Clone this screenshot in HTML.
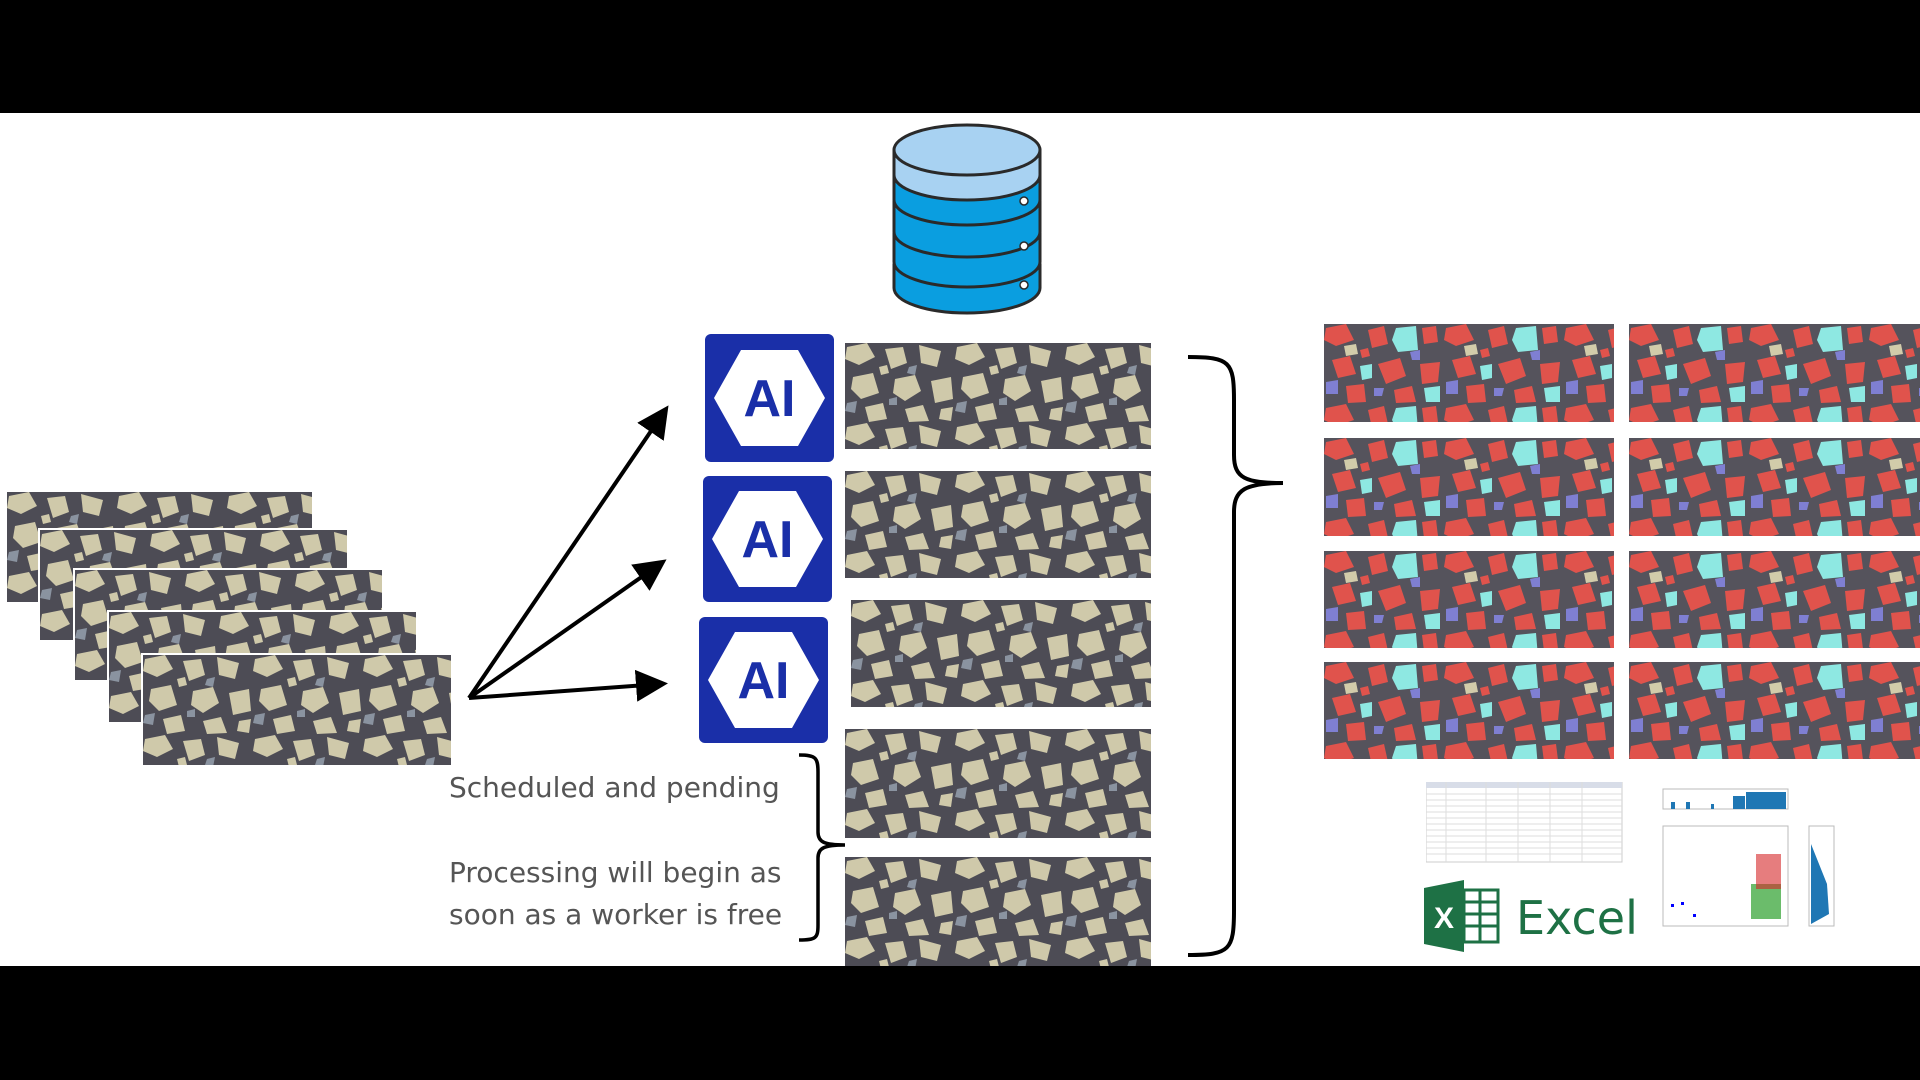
<!DOCTYPE html>
<html><head><meta charset="utf-8"><style>
body{margin:0;width:1920px;height:1080px;background:#000;position:relative;overflow:hidden;font-family:"Liberation Sans",sans-serif}
.white{position:absolute;left:0;top:113px;width:1920px;height:853px;background:#fff}
.im{position:absolute;overflow:hidden}
.im svg{display:block;width:100%;height:100%}
.lbl{position:absolute;color:#555;font-family:"DejaVu Sans","Liberation Sans",sans-serif;font-size:28px;line-height:42px}
</style></head><body>
<div class="white"></div>
<svg width="0" height="0" style="position:absolute">
<defs>
<pattern id="g" patternUnits="userSpaceOnUse" width="110" height="80">
<rect width="110" height="80" fill="#4d4c55"/>
<g fill="#cfc9aa">
<polygon points="2,4 22,0 30,14 14,22 0,16"/>
<polygon points="40,6 58,4 62,20 46,26"/>
<polygon points="74,2 96,8 92,24 76,20"/>
<polygon points="8,34 28,30 34,50 16,56 6,46"/>
<polygon points="50,36 70,32 76,48 60,58 48,50"/>
<polygon points="86,38 106,34 108,56 90,60"/>
<polygon points="20,64 38,60 42,76 24,79"/>
<polygon points="60,66 78,62 84,78 64,79"/>
<polygon points="96,66 108,64 106,78 94,76"/>
<polygon points="34,24 42,22 44,30 36,32"/>
</g>
<g fill="#8a93a0">
<polygon points="64,24 72,22 70,32 62,30"/>
<polygon points="2,60 12,58 10,70 0,68"/>
<polygon points="44,56 52,54 52,62 44,62"/>
</g>
</pattern>
<pattern id="c" patternUnits="userSpaceOnUse" width="120" height="80">
<rect width="120" height="80" fill="#55535c"/>
<g fill="#e0534c">
<polygon points="2,4 22,0 30,16 12,22 0,16"/>
<polygon points="44,6 60,2 64,20 48,24"/>
<polygon points="8,36 26,32 32,50 14,54"/>
<polygon points="54,40 76,34 82,52 62,60"/>
<polygon points="96,40 116,38 114,58 98,60"/>
<polygon points="22,62 40,60 42,78 24,79"/>
<polygon points="70,66 88,62 92,78 72,79"/>
<polygon points="98,4 112,2 114,18 100,20"/>
<polygon points="36,26 44,24 46,32 38,34"/>
</g>
<g fill="#8ee8e2">
<polygon points="72,4 92,2 94,26 74,28 68,16"/>
<polygon points="36,42 48,40 48,54 38,56"/>
<polygon points="100,64 116,62 116,78 102,78"/>
</g>
<g fill="#7f7fd2">
<polygon points="2,58 14,56 14,70 2,70"/>
<polygon points="86,28 96,26 96,36 88,36"/>
<polygon points="50,64 60,64 58,72 50,72"/>
</g>
<g fill="#d2ccaa"><polygon points="20,22 32,20 34,30 22,32"/></g>
</pattern>
</defs>
</svg>

<!-- left stack -->
<div class="im" style="left:5px;top:490px;width:305px;height:110px;border:2px solid #fff"><svg><rect width="100%" height="100%" fill="url(#g)"/></svg></div>
<div class="im" style="left:38px;top:528px;width:307px;height:110px;border:2px solid #fff"><svg><rect width="100%" height="100%" fill="url(#g)"/></svg></div>
<div class="im" style="left:73px;top:568px;width:307px;height:110px;border:2px solid #fff"><svg><rect width="100%" height="100%" fill="url(#g)"/></svg></div>
<div class="im" style="left:107px;top:610px;width:307px;height:110px;border:2px solid #fff"><svg><rect width="100%" height="100%" fill="url(#g)"/></svg></div>
<div class="im" style="left:141px;top:653px;width:308px;height:110px;border:2px solid #fff"><svg><rect width="100%" height="100%" fill="url(#g)"/></svg></div>

<svg style="position:absolute;left:0;top:0" width="1920" height="1080">
<defs><marker id="ah" markerWidth="8" markerHeight="8" refX="6" refY="4" orient="auto" markerUnits="strokeWidth"><path d="M0,0 L8,4 L0,8 z" fill="#000"/></marker></defs>
<g stroke="#000" stroke-width="4" fill="none">
<line x1="469" y1="698" x2="664" y2="412" marker-end="url(#ah)"/>
<line x1="469" y1="698" x2="660" y2="564" marker-end="url(#ah)"/>
<line x1="469" y1="698" x2="660" y2="684" marker-end="url(#ah)"/>
<path d="M1188,357 C1230,357 1234,362 1234,400 L1234,455 C1234,478 1245,483 1283,483 C1245,483 1234,490 1234,512 L1234,910 C1234,950 1230,955 1188,955"/>
<path d="M799,755 C816,755 818,758 818,772 L818,832 C818,842 824,845 845,845 C824,845 818,848 818,858 L818,925 C818,938 816,940 799,940" stroke-width="3.5"/>
</g>
<g stroke="#2a2a2a" stroke-width="3">
<path d="M894,265 L894,288 A73,25 0 0 0 1040,288 L1040,265 Z" fill="#0a9ee0"/>
<path d="M894,234 L894,262 A73,25 0 0 0 1040,262 L1040,234 Z" fill="#0a9ee0"/>
<path d="M894,202 L894,232 A73,25 0 0 0 1040,232 L1040,202 Z" fill="#0a9ee0"/>
<path d="M894,150 L894,200 A73,25 0 0 0 1040,200 L1040,150 Z" fill="#0a9ee0"/>
<path d="M894,150 L894,175 A73,25 0 0 0 1040,175 L1040,150 Z" fill="#a8d2f2"/>
<ellipse cx="967" cy="150" rx="73" ry="25" fill="#a8d2f2"/>
</g>
<g fill="#fff" stroke="#2a2a2a" stroke-width="1.5"><circle cx="1024" cy="201" r="4"/><circle cx="1024" cy="246" r="4"/><circle cx="1024" cy="285" r="4"/></g>
</svg>

<svg style="position:absolute;left:705px;top:334px" width="129" height="128"><rect width="129" height="128" rx="6" fill="#1a2fa8"/><polygon points="36,16 93,16 120,64 93,112 36,112 9,64" fill="#fff"/><text x="64.5" y="82" text-anchor="middle" font-family="Liberation Sans,sans-serif" font-weight="bold" font-size="52" fill="#1a2fa8">AI</text></svg>
<svg style="position:absolute;left:703px;top:476px" width="129" height="126"><rect width="129" height="126" rx="6" fill="#1a2fa8"/><polygon points="36,15 93,15 120,63 93,111 36,111 9,63" fill="#fff"/><text x="64.5" y="81" text-anchor="middle" font-family="Liberation Sans,sans-serif" font-weight="bold" font-size="52" fill="#1a2fa8">AI</text></svg>
<svg style="position:absolute;left:699px;top:617px" width="129" height="126"><rect width="129" height="126" rx="6" fill="#1a2fa8"/><polygon points="36,15 93,15 120,63 93,111 36,111 9,63" fill="#fff"/><text x="64.5" y="81" text-anchor="middle" font-family="Liberation Sans,sans-serif" font-weight="bold" font-size="52" fill="#1a2fa8">AI</text></svg>

<div class="im" style="left:845px;top:343px;width:306px;height:106px"><svg><rect width="100%" height="100%" fill="url(#g)"/></svg></div>
<div class="im" style="left:845px;top:471px;width:306px;height:107px"><svg><rect x="-40" y="-20" width="400" height="140" fill="url(#g)"/></svg></div>
<div class="im" style="left:851px;top:600px;width:300px;height:107px"><svg><rect x="-60" width="400" height="120" fill="url(#g)"/></svg></div>
<div class="im" style="left:845px;top:729px;width:306px;height:109px"><svg><rect width="100%" height="100%" fill="url(#g)"/></svg></div>
<div class="im" style="left:845px;top:857px;width:306px;height:109px"><svg><rect width="100%" height="100%" fill="url(#g)"/></svg></div>

<div class="lbl" style="left:449px;top:767px">Scheduled and pending</div>
<div class="lbl" style="left:449px;top:852px">Processing will begin as<br>soon as a worker is free</div>

<div class="im" style="left:1324px;top:324px;width:290px;height:98px"><svg><rect width="100%" height="100%" fill="url(#c)"/></svg></div>
<div class="im" style="left:1629px;top:324px;width:291px;height:98px"><svg><rect width="100%" height="100%" fill="url(#c)"/></svg></div>
<div class="im" style="left:1324px;top:438px;width:290px;height:98px"><svg><rect width="100%" height="100%" fill="url(#c)"/></svg></div>
<div class="im" style="left:1629px;top:438px;width:291px;height:98px"><svg><rect width="100%" height="100%" fill="url(#c)"/></svg></div>
<div class="im" style="left:1324px;top:551px;width:290px;height:97px"><svg><rect width="100%" height="100%" fill="url(#c)"/></svg></div>
<div class="im" style="left:1629px;top:551px;width:291px;height:97px"><svg><rect width="100%" height="100%" fill="url(#c)"/></svg></div>
<div class="im" style="left:1324px;top:662px;width:290px;height:97px"><svg><rect width="100%" height="100%" fill="url(#c)"/></svg></div>
<div class="im" style="left:1629px;top:662px;width:291px;height:97px"><svg><rect width="100%" height="100%" fill="url(#c)"/></svg></div>

<svg style="position:absolute;left:1426px;top:782px" width="200" height="82">
<rect width="196" height="80" fill="#fff" stroke="#ccc"/>
<rect width="196" height="6" fill="#d8dde8"/>
<g stroke="#ddd" stroke-width="1">
<line x1="0" y1="12" x2="196" y2="12"/><line x1="0" y1="18" x2="196" y2="18"/><line x1="0" y1="24" x2="196" y2="24"/><line x1="0" y1="30" x2="196" y2="30"/><line x1="0" y1="36" x2="196" y2="36"/><line x1="0" y1="42" x2="196" y2="42"/><line x1="0" y1="48" x2="196" y2="48"/><line x1="0" y1="54" x2="196" y2="54"/><line x1="0" y1="60" x2="196" y2="60"/><line x1="0" y1="66" x2="196" y2="66"/><line x1="0" y1="72" x2="196" y2="72"/>
<line x1="20" y1="0" x2="20" y2="80"/><line x1="60" y1="0" x2="60" y2="80"/><line x1="92" y1="0" x2="92" y2="80"/><line x1="124" y1="0" x2="124" y2="80"/><line x1="156" y1="0" x2="156" y2="80"/>
</g>
</svg>
<svg style="position:absolute;left:1424px;top:880px" width="76" height="72">
<polygon points="0,8 40,0 40,72 0,64" fill="#1e7145"/>
<rect x="40" y="10" width="34" height="52" fill="#fff" stroke="#1e7145" stroke-width="3"/>
<g stroke="#1e7145" stroke-width="3"><line x1="40" y1="22" x2="74" y2="22"/><line x1="40" y1="34" x2="74" y2="34"/><line x1="40" y1="46" x2="74" y2="46"/><line x1="56" y1="10" x2="56" y2="62"/></g>
<text x="20" y="48" text-anchor="middle" font-family="Liberation Sans,sans-serif" font-weight="bold" font-size="30" fill="#fff">X</text>
</svg>
<div style="position:absolute;left:1516px;top:888px;font-size:46px;color:#1e7145;font-family:'DejaVu Sans','Liberation Sans',sans-serif;line-height:60px">Excel</div>
<svg style="position:absolute;left:1641px;top:784px" width="205" height="155">
<g stroke="#bbb" fill="none"><rect x="22" y="5" width="125" height="20"/><rect x="22" y="42" width="125" height="100"/><rect x="168" y="42" width="25" height="100"/></g>
<g fill="#1f77b4"><rect x="105" y="8" width="40" height="17"/><rect x="92" y="12" width="12" height="13"/><rect x="30" y="18" width="4" height="7"/><rect x="45" y="18" width="4" height="7"/><rect x="70" y="20" width="3" height="5"/><polygon points="170,60 186,100 188,130 170,140"/></g>
<g fill="#2ca02c"><rect x="110" y="100" width="30" height="35" opacity=".7"/></g>
<g fill="#d62728"><rect x="115" y="70" width="25" height="35" opacity=".6"/></g>
<g fill="#00f"><rect x="30" y="120" width="3" height="3"/><rect x="40" y="118" width="3" height="3"/><rect x="52" y="130" width="3" height="3"/></g>
</svg>
</body></html>
